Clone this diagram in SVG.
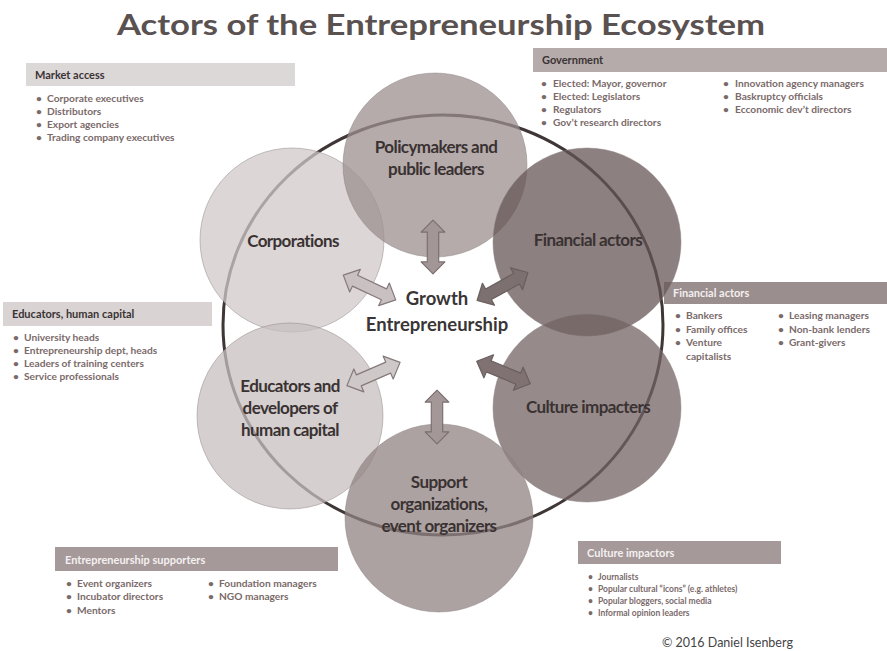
<svg xmlns="http://www.w3.org/2000/svg" width="887" height="651" viewBox="0 0 887 651">
<style>
  text { font-family: Lato, "Open Sans", "Liberation Sans", sans-serif; }
  .title { font-size: 28.5px; font-weight: 700; fill: #5a5151; }
  .hdr { font-size: 11px; font-weight: 700; }
  .hdrDark { fill: #3a3333; }
  .hdrLight { fill: #f4f0f0; }
  .item { font-size: 10.2px; font-weight: 700; fill: #7a6a6a; }
  .itemSm { font-size: 8.5px; font-weight: 700; fill: #7a6a6a; }
  .lbl { font-size: 17px; font-weight: 700; fill: #3a3232; letter-spacing: -0.6px; text-anchor: middle; }
  .center { font-size: 18.5px; font-weight: 700; fill: #3a3636; text-anchor: middle; }
  .circ { fill-opacity: 0.75; stroke: #8a7e7e; stroke-opacity: 0.45; stroke-width: 1; }
  .arrow { stroke-width: 1.2; stroke-linejoin: round; }
</style>
<defs>
  <path id="dbl" d="M -29 0 L -16 -12.5 L -16 -6 L 16 -6 L 16 -12.5 L 29 0 L 16 12.5 L 16 6 L -16 6 L -16 12.5 Z"/>
</defs>

<text class="title" x="117" y="35" textLength="648" lengthAdjust="spacingAndGlyphs">Actors of the Entrepreneurship Ecosystem</text>

<!-- Info boxes -->
<g id="box-market">
  <rect x="26" y="63" width="269" height="23" fill="#ddd8d8"/>
  <text class="hdr hdrDark" x="35" y="79">Market access</text>
  <text class="item" x="36" y="102">•</text><text class="item" x="47" y="102">Corporate executives</text>
  <text class="item" x="36" y="115">•</text><text class="item" x="47" y="115">Distributors</text>
  <text class="item" x="36" y="128">•</text><text class="item" x="47" y="128">Export agencies</text>
  <text class="item" x="36" y="141">•</text><text class="item" x="47" y="141">Trading company executives</text>
</g>
<g id="box-government">
  <rect x="533" y="48" width="354" height="24" fill="#b5abab"/>
  <text class="hdr hdrDark" x="542" y="64">Government</text>
  <text class="item" x="541" y="87">•</text><text class="item" x="553" y="87">Elected: Mayor, governor</text>
  <text class="item" x="541" y="100">•</text><text class="item" x="553" y="100">Elected: Legislators</text>
  <text class="item" x="541" y="113">•</text><text class="item" x="553" y="113">Regulators</text>
  <text class="item" x="541" y="126">•</text><text class="item" x="553" y="126">Gov’t research directors</text>
  <text class="item" x="723" y="87">•</text><text class="item" x="735" y="87">Innovation agency managers</text>
  <text class="item" x="723" y="100">•</text><text class="item" x="735" y="100">Baskruptcy officials</text>
  <text class="item" x="723" y="113">•</text><text class="item" x="735" y="113">Ecconomic dev’t directors</text>
</g>
<g id="box-financial">
  <rect x="664" y="282" width="223" height="22" fill="#9b8e8e"/>
  <text class="hdr hdrLight" x="673" y="297">Financial actors</text>
  <text class="item" x="675" y="319">•</text><text class="item" x="686" y="319">Bankers</text>
  <text class="item" x="675" y="333">•</text><text class="item" x="686" y="333">Family offices</text>
  <text class="item" x="675" y="346">•</text><text class="item" x="686" y="346">Venture</text>
  <text class="item" x="686" y="360">capitalists</text>
  <text class="item" x="778" y="319">•</text><text class="item" x="789" y="319">Leasing managers</text>
  <text class="item" x="778" y="333">•</text><text class="item" x="789" y="333">Non-bank lenders</text>
  <text class="item" x="778" y="346">•</text><text class="item" x="789" y="346">Grant-givers</text>
</g>
<g id="box-educators">
  <rect x="3" y="302" width="209" height="24" fill="#d9d3d3"/>
  <text class="hdr hdrDark" x="12" y="318">Educators, human capital</text>
  <text class="item" x="13" y="341">•</text><text class="item" x="24" y="341">University heads</text>
  <text class="item" x="13" y="354">•</text><text class="item" x="24" y="354">Entrepreneurship dept, heads</text>
  <text class="item" x="13" y="367">•</text><text class="item" x="24" y="367">Leaders of training centers</text>
  <text class="item" x="13" y="380">•</text><text class="item" x="24" y="380">Service professionals</text>
</g>
<g id="box-supporters">
  <rect x="55" y="547" width="283" height="24" fill="#a59999"/>
  <text class="hdr hdrLight" x="65" y="564">Entrepreneurship supporters</text>
  <text class="item" x="66" y="587">•</text><text class="item" x="77" y="587">Event organizers</text>
  <text class="item" x="66" y="600">•</text><text class="item" x="77" y="600">Incubator directors</text>
  <text class="item" x="66" y="614">•</text><text class="item" x="77" y="614">Mentors</text>
  <text class="item" x="208" y="587">•</text><text class="item" x="219" y="587">Foundation managers</text>
  <text class="item" x="208" y="600">•</text><text class="item" x="219" y="600">NGO managers</text>
</g>
<g id="box-culture">
  <rect x="578" y="541" width="203" height="23" fill="#a59999"/>
  <text class="hdr hdrLight" x="587" y="557">Culture impactors</text>
  <text class="itemSm" x="588" y="580">•</text><text class="itemSm" x="598" y="580">Journalists</text>
  <text class="itemSm" x="588" y="592">•</text><text class="itemSm" x="598" y="592">Popular cultural “icons” (e.g. athletes)</text>
  <text class="itemSm" x="588" y="604">•</text><text class="itemSm" x="598" y="604">Popular bloggers, social media</text>
  <text class="itemSm" x="588" y="616">•</text><text class="itemSm" x="598" y="616">Informal opinion leaders</text>
</g>

<!-- Ring -->
<ellipse cx="443" cy="325" rx="220" ry="210" fill="none" stroke="#3f3636" stroke-width="3"/>

<!-- Circles -->
<g id="node-corporations">
  <circle class="circ" cx="292" cy="240" r="92" fill="#d0c8c8"/>
  <text class="lbl" x="293" y="247">Corporations</text>
</g>
<g id="node-policymakers">
  <circle class="circ" cx="435" cy="165" r="92" fill="#9c8f8f"/>
  <text class="lbl" x="436" y="153">Policymakers and</text>
  <text class="lbl" x="436" y="175">public leaders</text>
</g>
<g id="node-financial">
  <circle class="circ" cx="587" cy="242" r="94" fill="#675656"/>
  <text class="lbl" x="588" y="246">Financial actors</text>
</g>
<g id="node-educators">
  <circle class="circ" cx="290" cy="416" r="93" fill="#c7bfbf"/>
  <text class="lbl" x="290" y="392">Educators and</text>
  <text class="lbl" x="290" y="414">developers of</text>
  <text class="lbl" x="290" y="436">human capital</text>
</g>
<g id="node-culture">
  <circle class="circ" cx="587" cy="408" r="94" fill="#736363"/>
  <text class="lbl" x="588" y="413">Culture impacters</text>
</g>
<g id="node-support">
  <circle class="circ" cx="439" cy="518" r="94" fill="#928383"/>
  <text class="lbl" x="439" y="488">Support</text>
  <text class="lbl" x="439" y="510">organizations,</text>
  <text class="lbl" x="439" y="532">event organizers</text>
</g>

<g id="node-center">
  <text class="center" x="437" y="305">Growth</text>
  <text class="center" x="437" y="331">Entrepreneurship</text>
</g>

<!-- Connectors -->
<g id="connectors">
  <use href="#dbl" class="arrow" fill="#a39696" stroke="#7a6e6e" transform="translate(433,247) rotate(90) scale(0.93,0.95)"/>
  <use href="#dbl" class="arrow" fill="#a39797" stroke="#7a6e6e" transform="translate(437,417) rotate(90) scale(0.93,0.95)"/>
  <use href="#dbl" class="arrow" fill="#c9c1c1" stroke="#857979" transform="translate(369.5,287.5) rotate(25.3)"/>
  <use href="#dbl" class="arrow" fill="#7d7070" stroke="#6a5e5e" transform="translate(502.5,286.5) rotate(-28.9)"/>
  <use href="#dbl" class="arrow" fill="#cfc8c8" stroke="#857979" transform="translate(373.5,374) rotate(-23.6)"/>
  <use href="#dbl" class="arrow" fill="#807272" stroke="#6a5e5e" transform="translate(503.5,372.5) rotate(22.7)"/>
</g>

<text x="662" y="647" style="font-size:12.5px;fill:#444">©  2016 Daniel Isenberg</text>
</svg>
